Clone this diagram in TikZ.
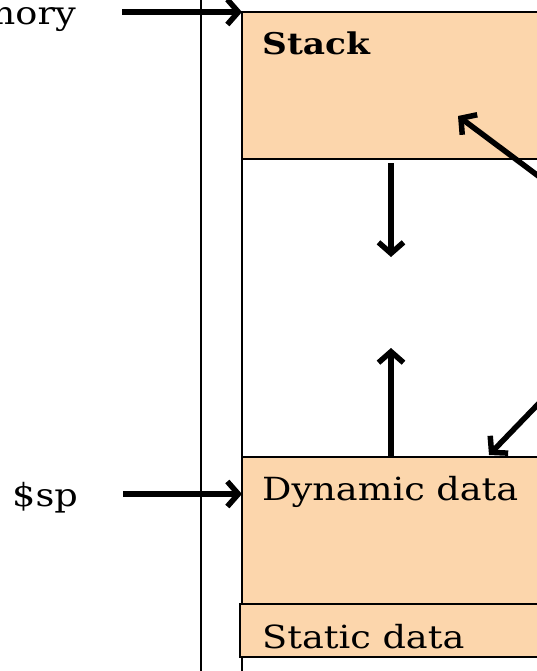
\documentclass[tikz,border=0pt]{standalone}
\usepackage{fontspec}
\setmainfont{DejaVu Serif}[FakeStretch=1.15]
\usetikzlibrary{arrows.meta}
\definecolor{peach}{RGB}{252,214,172}
\begin{document}
\begin{tikzpicture}[x=1bp,y=-1bp,
  seg/.style={draw=black, line width=2.8bp, fill=peach},
  rule/.style={draw=black, line width=2.5bp},
  lbl/.style={anchor=base west, inner sep=0, font=\fontsize{32}{38}\selectfont},
  blbl/.style={anchor=base west, inner sep=0, font=\fontsize{30}{36}\selectfont\bfseries},
  arr/.style={draw=black, line width=5.5bp, -{Straight Barb[length=11bp,width=25bp]}}]
\useasboundingbox (0,0) rectangle (537,671);
\clip (0,0) rectangle (537,671);
% memory column
\draw[rule] (201,-5) -- (201,680);
\draw[rule] (242,12) -- (242,680);
\draw[seg] (242,12) rectangle (570,159);
\coordinate (stackNW) at (242,12);
\draw[seg] (242,457) rectangle (570,604);
\coordinate (dynNW) at (242,457);
\draw[seg] (240,604) rectangle (570,657);
% labels
\node[lbl, anchor=base east] (mem) at (76,25) {memory};
\node[lbl] (sp) at (12,506) {\$sp};
\node[blbl] (stack) at (262,55) {Stack};
\node[lbl] (dyn) at (262,500) {Dynamic data};
\node[lbl] (stat) at (262,648) {Static data};
% arrows
\coordinate (memA) at (122,12);
\coordinate (spA) at (123,494);
\draw[arr] (memA) -- (stackNW);
\draw[arr] (spA) -- (242,494) coordinate (dynW);
\coordinate (d1) at (391,163);
\coordinate (d2) at (391,257);
\draw[arr] (d1) -- (d2);
\coordinate (u1) at (391,457);
\coordinate (u2) at (391,348);
\draw[arr] (u1) -- (u2);
\coordinate (g1) at (545,181);
\coordinate (g2) at (458,116);
\draw[arr] (g1) -- (g2);
\coordinate (h1) at (545,397);
\coordinate (h2) at (489,455);
\draw[arr] (h1) -- (h2);
\end{tikzpicture}
\end{document}
